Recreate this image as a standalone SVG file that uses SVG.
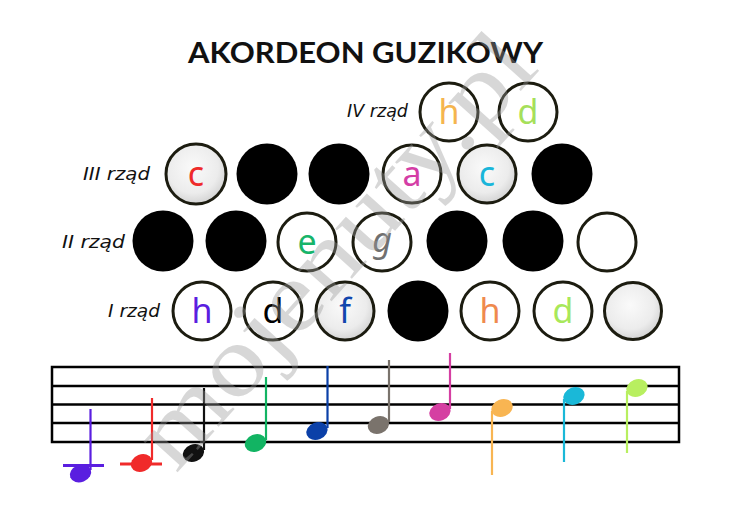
<svg xmlns="http://www.w3.org/2000/svg" width="730" height="516" viewBox="0 0 730 516">
<defs>
<radialGradient id="gloss" cx="45%" cy="40%" r="60%">
<stop offset="0" stop-color="#fafafa"/>
<stop offset="0.7" stop-color="#ececec"/>
<stop offset="1" stop-color="#d4d4d4"/>
</radialGradient>
<style>
.btn{fill:#fff;stroke:#1c1c10;stroke-width:3}
.gl{fill:url(#gloss);stroke:#1c1c10;stroke-width:3}
.blk{fill:#000}
.lbl{font-family:"DejaVu Sans",sans-serif;font-style:italic;font-size:17px;fill:#111;text-anchor:end}
.nt{font-family:"Noto Sans","DejaVu Sans",sans-serif;font-size:34px;text-anchor:middle}
.title{font-family:Lato,"Liberation Sans",sans-serif;font-weight:700;font-size:28px;fill:#111;text-anchor:middle}
.staff{fill:none;stroke:#000;stroke-width:2.5}
.stem{stroke-width:2.2;fill:none}
</style>
</defs>
<rect width="730" height="516" fill="#fff"/>
<text class="title" x="365.5" y="63" textLength="355" lengthAdjust="spacingAndGlyphs">AKORDEON GUZIKOWY</text>

<g id="labels">
<text class="lbl" x="408" y="117" textLength="61" lengthAdjust="spacingAndGlyphs">IV rząd</text>
<text class="lbl" x="150" y="180" textLength="67" lengthAdjust="spacingAndGlyphs">III rząd</text>
<text class="lbl" x="125" y="248" textLength="63" lengthAdjust="spacingAndGlyphs">II rząd</text>
<text class="lbl" x="160" y="317" textLength="52" lengthAdjust="spacingAndGlyphs">I rząd</text>
</g>

<g id="row4">
<g id="r4b1"><circle class="btn" cx="449" cy="112" r="29"/><text class="nt" x="449" y="124" fill="#f5b54e">h</text></g>
<g id="r4b2"><circle class="btn" cx="528" cy="112" r="29"/><text class="nt" x="528" y="124" fill="#a6e05a">d</text></g>
</g>

<g id="row3">
<g id="r3b1"><circle class="gl" cx="196" cy="174" r="30"/><text class="nt" x="196" y="186" fill="#ee2b2b">c</text></g>
<g id="r3b2"><circle class="blk" cx="267" cy="174" r="30.5"/></g>
<g id="r3b3"><circle class="blk" cx="339" cy="174" r="30.5"/></g>
<g id="r3b4"><circle class="btn" cx="412" cy="174" r="29"/><text class="nt" x="412" y="186" fill="#d43ea6">a</text></g>
<g id="r3b5"><circle class="gl" cx="487" cy="174" r="29"/><text class="nt" x="487" y="186" fill="#1ab6da">c</text></g>
<g id="r3b6"><circle class="blk" cx="562" cy="174" r="30.5"/></g>
</g>

<g id="row2">
<g id="r2b1"><circle class="blk" cx="163" cy="241" r="30.5"/></g>
<g id="r2b2"><circle class="blk" cx="236" cy="241" r="30.5"/></g>
<g id="r2b3"><circle class="btn" cx="307" cy="242" r="29"/><text class="nt" x="307" y="254" fill="#17b46a">e</text></g>
<g id="r2b4"><circle class="btn" cx="382" cy="242" r="29"/><text class="nt" x="382" y="252" fill="#707070" font-style="italic">g</text></g>
<g id="r2b5"><circle class="blk" cx="457" cy="241" r="30.5"/></g>
<g id="r2b6"><circle class="blk" cx="533" cy="241" r="30.5"/></g>
<g id="r2b7"><circle class="btn" cx="607" cy="242" r="29"/></g>
</g>

<g id="row1">
<g id="r1b1"><circle class="btn" cx="202" cy="311" r="29"/><text class="nt" x="202" y="323" fill="#5a1ee0">h</text></g>
<g id="r1b2"><circle class="btn" cx="273" cy="311" r="29"/><text class="nt" x="273" y="323" fill="#000">d</text></g>
<g id="r1b3"><circle class="gl" cx="345" cy="311" r="29"/><text class="nt" x="345" y="323" fill="#1146ad">f</text></g>
<g id="r1b4"><circle class="blk" cx="418" cy="311" r="30.5"/></g>
<g id="r1b5"><circle class="btn" cx="490" cy="311" r="29"/><text class="nt" x="490" y="323" fill="#ef8a4e">h</text></g>
<g id="r1b6"><circle class="btn" cx="563" cy="311" r="29"/><text class="nt" x="563" y="323" fill="#a8e85a">d</text></g>
<g id="r1b7"><circle class="gl" cx="633" cy="311" r="28.5"/></g>
</g>

<g id="staff">
<rect class="staff" x="52" y="367" width="627" height="75"/>
<line class="staff" x1="52" y1="386" x2="679" y2="386"/>
<line class="staff" x1="52" y1="404.5" x2="679" y2="404.5"/>
<line class="staff" x1="52" y1="423" x2="679" y2="423"/>
</g>

<g id="notes">
<g id="n1"><line x1="63" y1="465.5" x2="104" y2="465.5" stroke="#5a1ee0" stroke-width="3"/><line class="stem" x1="90.5" y1="409" x2="90.5" y2="470" stroke="#5a1ee0"/><ellipse cx="80.5" cy="473.5" rx="11" ry="8.5" transform="rotate(-22 80.5 473.5)" fill="#5a1ee0"/></g>
<g id="n2"><line x1="120" y1="464" x2="162" y2="464" stroke="#f02a2a" stroke-width="3"/><line class="stem" x1="152" y1="398" x2="152" y2="460" stroke="#f02a2a"/><ellipse cx="141.5" cy="463" rx="11" ry="8.5" transform="rotate(-22 141.5 463)" fill="#f02a2a"/></g>
<g id="n3"><line class="stem" x1="204" y1="388" x2="204" y2="450" stroke="#111"/><ellipse cx="193.5" cy="453" rx="11" ry="8.5" transform="rotate(-22 193.5 453)" fill="#111"/></g>
<g id="n4"><line class="stem" x1="266" y1="377" x2="266" y2="440" stroke="#12b463"/><ellipse cx="255.5" cy="443" rx="11" ry="8.5" transform="rotate(-22 255.5 443)" fill="#12b463"/></g>
<g id="n5"><line class="stem" x1="327.5" y1="366" x2="327.5" y2="428" stroke="#0b40a8"/><ellipse cx="317" cy="431" rx="11" ry="8.5" transform="rotate(-22 317 431)" fill="#0b40a8"/></g>
<g id="n6"><line class="stem" x1="389" y1="360" x2="389" y2="422" stroke="#7a736c"/><ellipse cx="378.5" cy="425" rx="11" ry="8.5" transform="rotate(-22 378.5 425)" fill="#7a736c"/></g>
<g id="n7"><line class="stem" x1="450" y1="353" x2="450" y2="409" stroke="#d53fa2"/><ellipse cx="440" cy="412" rx="11" ry="8.5" transform="rotate(-22 440 412)" fill="#d53fa2"/></g>
<g id="n8"><line class="stem" x1="492" y1="411" x2="492" y2="475" stroke="#f8b552"/><ellipse cx="502" cy="408" rx="11" ry="8.5" transform="rotate(-22 502 408)" fill="#f8b552"/></g>
<g id="n9"><line class="stem" x1="564" y1="399" x2="564" y2="462" stroke="#1ab8d8"/><ellipse cx="574" cy="396" rx="11" ry="8.5" transform="rotate(-22 574 396)" fill="#1ab8d8"/></g>
<g id="n10"><line class="stem" x1="627" y1="391" x2="627" y2="453" stroke="#b8ef60"/><ellipse cx="637" cy="388" rx="11" ry="8.5" transform="rotate(-22 637 388)" fill="#b8ef60"/></g>
</g>

<text x="176" y="474" transform="rotate(-48 176 474)" font-family="Liberation Serif, serif" font-size="100" fill="#999" opacity="0.38" textLength="545" lengthAdjust="spacingAndGlyphs">mojenuty.pl</text>
</svg>
